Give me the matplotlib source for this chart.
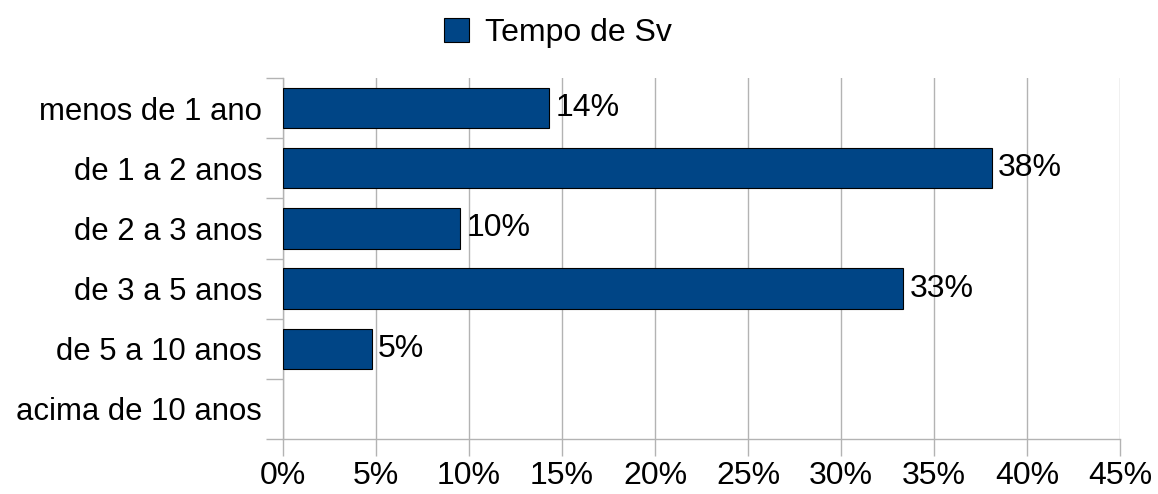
import numpy as np
import matplotlib.pyplot as plt
from matplotlib.patches import Patch
from matplotlib.ticker import MultipleLocator, FuncFormatter

categories = ["menos de 1 ano", "de 1 a 2 anos", "de 2 a 3 anos",
              "de 3 a 5 anos", "de 5 a 10 anos", "acima de 10 anos"]
values = [14.29, 38.10, 9.52, 33.33, 4.76, 0.0]
labels = ["14%", "38%", "10%", "33%", "5%", None]
series_name = "Tempo de Sv"

bar_color = "#004586"
grid_color = "#b3b3b3"
fs = 23

plt.rcParams["font.family"] = ["Liberation Sans", "DejaVu Sans"]

fig = plt.figure(figsize=(11.58, 4.94), dpi=100)
ax = fig.add_axes([283/1158, 1 - 439/494, (1120 - 283)/1158, (439 - 78)/494])

y = np.arange(len(categories))
lw = [0.8 if v > 0 else 0 for v in values]
ax.barh(y, values, height=0.67, color=bar_color, edgecolor="black", linewidth=lw, zorder=3)

for yi, v, lab in zip(y, values, labels):
    if lab:
        ax.text(v + 0.35, yi, lab, va="center", ha="left", fontsize=fs, zorder=4)

ax.set_xlim(0, 45)
ax.set_ylim(len(categories) - 0.5, -0.5)
ax.xaxis.set_major_locator(MultipleLocator(5))
ax.xaxis.set_major_formatter(FuncFormatter(lambda v, p: f"{v:.0f}%"))
ax.set_yticks(y)
ax.set_yticklabels(categories)
ax.set_yticks(np.arange(-0.5, len(categories) + 0.5, 1), minor=True)
ax.tick_params(axis="y", which="major", length=0, pad=15, labelsize=22.4)
ax.tick_params(axis="y", which="minor", length=12, color=grid_color, width=1)
ax.tick_params(axis="x", length=12, color=grid_color, width=1, labelsize=fs, pad=4)

ax.grid(axis="x", color=grid_color, linewidth=1, zorder=0)
for s in ["top", "right"]:
    ax.spines[s].set_visible(False)
for s in ["left", "bottom"]:
    ax.spines[s].set_color(grid_color)
    ax.spines[s].set_linewidth(1)

fig.legend(handles=[Patch(facecolor=bar_color, edgecolor="black", linewidth=0.8, label=series_name)],
           loc="center", bbox_to_anchor=(558/1158, 1 - 33/494), frameon=False,
           fontsize=fs, handlelength=0.8, handleheight=0.8, handletextpad=0.5)

fig.savefig("out.png", dpi=100)
